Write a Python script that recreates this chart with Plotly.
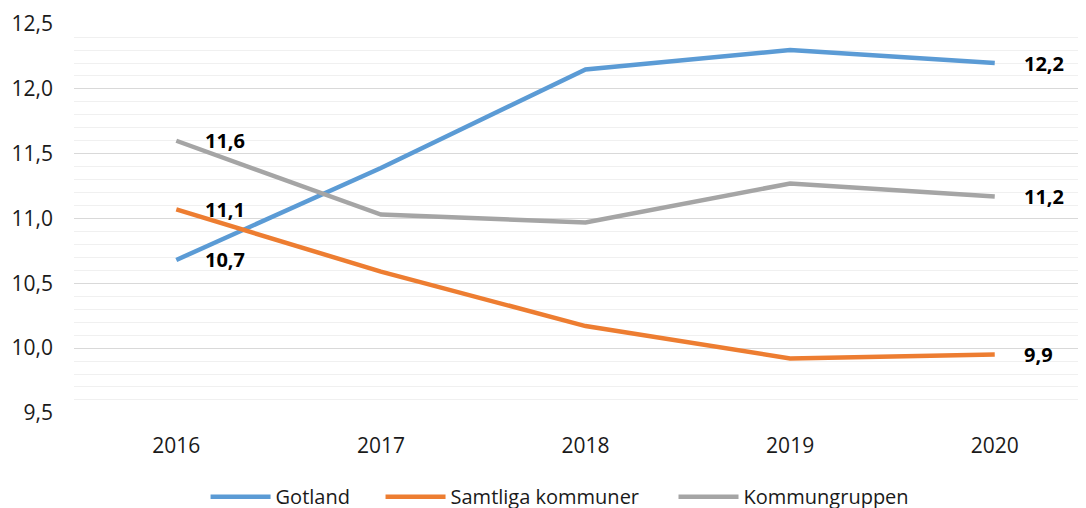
import plotly.graph_objects as go

years = ["2016", "2017", "2018", "2019", "2020"]
gotland = [10.68, 11.39, 12.15, 12.30, 12.20]
samtliga = [11.07, 10.59, 10.17, 9.92, 9.95]
kommungruppen = [11.60, 11.03, 10.97, 11.27, 11.17]

series = [
    ("Gotland", gotland, "#5B9BD5"),
    ("Samtliga kommuner", samtliga, "#ED7D31"),
    ("Kommungruppen", kommungruppen, "#A5A5A5"),
]
legend_ids = ["legend", "legend2", "legend3"]
legend_x = [0.130, 0.3029, 0.5924]

FONT = "Open Sans"
TXT = "#1a1a1a"
xpos = list(range(len(years)))

fig = go.Figure()
for (name, vals, col), lid in zip(series, legend_ids):
    fig.add_trace(go.Scatter(
        x=xpos, y=vals, name=name, mode="lines",
        line=dict(color=col, width=4.5), legend=lid,
    ))

annotations = []
for name, vals, col in series:
    for i in (0, len(vals) - 1):
        annotations.append(dict(
            x=xpos[i], y=vals[i], xref="x", yref="y",
            text="<b>" + f"{vals[i]:.1f}".replace(".", ",") + "</b>",
            showarrow=False, xanchor="left", yanchor="middle", xshift=27,
            font=dict(family=FONT, size=20, color="#000000"),
        ))

layout_legends = {}
for lid, lx in zip(legend_ids, legend_x):
    layout_legends[lid] = dict(
        orientation="h", x=lx, xanchor="left", y=-0.215, yanchor="middle",
        font=dict(family=FONT, size=20, color=TXT),
        itemwidth=60, bgcolor="rgba(0,0,0,0)",
    )

# page body has an 8px default margin, so the figure is sized 8px smaller
fig.update_layout(
    width=1078, height=500,
    margin=dict(l=66, r=0, t=16, b=95, autoexpand=False),
    paper_bgcolor="white", plot_bgcolor="white",
    separators=", ",
    font=dict(family=FONT, size=20, color=TXT),
    showlegend=True,
    annotations=annotations,
    xaxis=dict(range=[-0.5, 4.446], tickvals=xpos, ticktext=years,
               showgrid=False, zeroline=False,
               showline=False, ticks="", ticklabelstandoff=18,
               tickfont=dict(family=FONT, size=21, color=TXT)),
    yaxis=dict(range=[9.499, 12.501], dtick=0.5, tick0=9.5, tickformat=".1f",
               showgrid=True, gridcolor="#d9d9d9", gridwidth=1, zeroline=False,
               showline=False, ticks="", ticklabelstandoff=20,
               tickfont=dict(family=FONT, size=21, color=TXT),
               minor=dict(dtick=0.1, tick0=9.5, showgrid=True, gridcolor="#f0f0f0", gridwidth=1)),
    **layout_legends,
)
fig.write_html("out.html")
